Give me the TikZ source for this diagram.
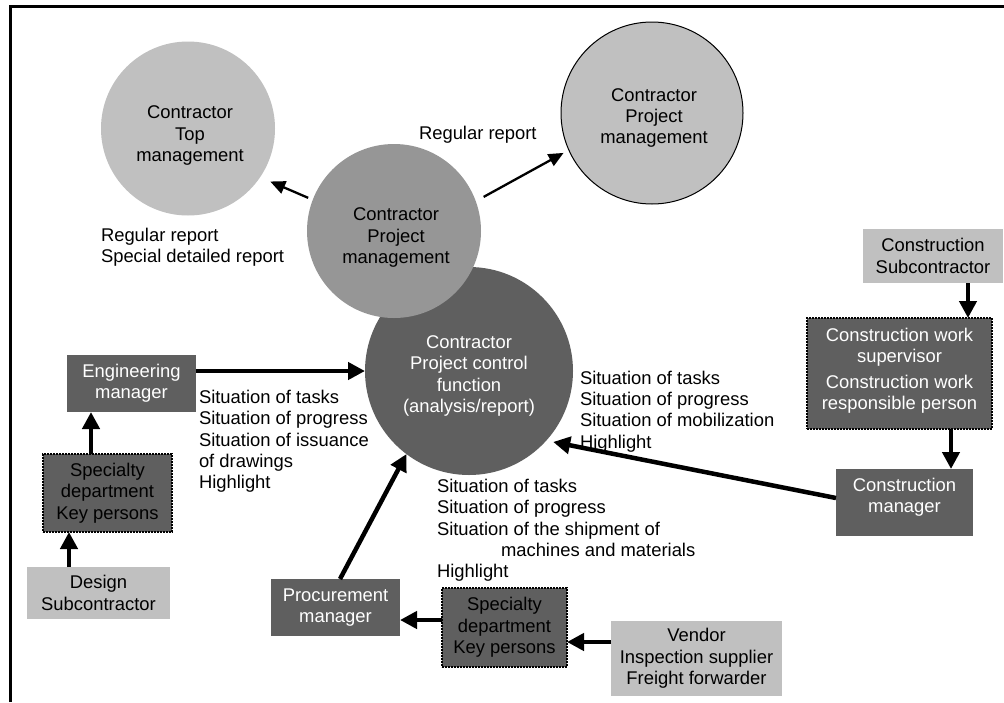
\documentclass[tikz,border=0pt]{standalone}
\usepackage{fontspec}
\setmainfont{Liberation Sans}
\usetikzlibrary{arrows.meta,calc}
\definecolor{dark}{RGB}{95,95,95}
\definecolor{mid}{RGB}{150,150,150}
\definecolor{light}{RGB}{192,192,192}
\begin{document}
\begin{tikzpicture}[x=1pt,y=-1pt,
  every node/.style={font=\fontsize{18.4}{21.3}\selectfont, inner sep=0pt, outer sep=0pt},
  circ/.style={circle, minimum size=#1, inner sep=0pt},
  txt/.style={align=center},
  box/.style={rectangle, align=center, inner sep=0pt},
  darkbox/.style={box, fill=dark, text=white},
  dotbox/.style={box, fill=dark, draw=black, densely dotted, line width=2pt, text=black},
  lightbox/.style={box, fill=light, text=black},
  lbl/.style={align=left, anchor=west},
  thinarr/.style={line width=2.3pt, -{Triangle[length=15pt,width=13pt]}},
  bigarr/.style={line width=4.5pt, -{Triangle[length=17pt,width=17pt]}},
]
\useasboundingbox (0,0) rectangle (1004,702);
\fill[white] (0,0) rectangle (1004,702);
\draw[line width=3pt] (10.5,702) -- (10.5,6.5) -- (1004,6.5);

% circles
\node[circ=174pt, fill=light] (top) at (188,128.5) {};
\node[txt] (topT) at (190,135.5) {Contractor\\Top\\management};
\node[circ=208pt, fill=dark] (pcf) at (469,371) {};
\node[circ=174pt, fill=mid] (pmc) at (394,231) {};
\node[txt] (pmcT) at (396,237.5) {Contractor\\Project\\management};
\node[circ=182pt, fill=light, draw=black, line width=1pt] (pmr) at (652,113) {};
\node[txt] (pmrT) at (654,118) {Contractor\\Project\\management};
\node[txt, text=white] (pcfT) at (469,376) {Contractor\\Project control\\function\\(analysis/report)};

% boxes
\node[darkbox, minimum width=129pt, minimum height=57pt] (em) at (131.5,383.5) {Engineering\\manager};
\node[dotbox, minimum width=129pt, minimum height=78pt] (specL) at (107.5,493) {Specialty\\department\\Key persons};
\node[lightbox, minimum width=143pt, minimum height=52pt] (design) at (98.5,593) {Design\\Subcontractor};
\node[darkbox, minimum width=129pt, minimum height=57pt] (proc) at (335.5,607.5) {Procurement\\manager};
\node[dotbox, minimum width=125pt, minimum height=79pt] (specB) at (504.5,627.5) {Specialty\\department\\Key persons};
\node[lightbox, minimum width=171pt, minimum height=75pt] (vendor) at (696.5,658.5) {Vendor\\Inspection supplier\\Freight forwarder};
\node[lightbox, minimum width=140pt, minimum height=54pt] (csub) at (933,256) {Construction\\Subcontractor};
\node[dotbox, minimum width=185pt, minimum height=111pt] (cw) at (899.5,373.5) {};
\node[txt, text=white] (cwT) at (899.5,371) {Construction work\\supervisor\\[4.5pt]Construction work\\responsible person};
\node[darkbox, minimum width=137pt, minimum height=67pt] (cm) at (904.5,502.5) {};
\node[txt, text=white] (cmT) at (904.5,497.5) {Construction\\manager};

% labels
\node[lbl] (rr1) at (419,135) {Regular report};
\node[lbl] (rr2) at (101,247) {Regular report\\Special detailed report};
\node[lbl] (emL) at (199,441.5) {Situation of tasks\\Situation of progress\\Situation of issuance\\of drawings\\Highlight};
\node[lbl] (cmL) at (580,411.5) {Situation of tasks\\Situation of progress\\Situation of mobilization\\Highlight};
\node[lbl] (prL) at (437,530.5) {Situation of tasks\\Situation of progress\\Situation of the shipment of\\\hspace*{64pt}machines and materials\\Highlight};

% arrows
\draw[thinarr, shorten <=5pt, shorten >=11pt] (pmc.159) -- (top.326);
\draw[thinarr, shorten <=9pt, shorten >=6pt] (pmc.20) -- (pmr.204);
\draw[bigarr] (em.east |- pcf.west) -- (pcf.west);
\draw[bigarr] ([xshift=-16.5pt]specL.north) coordinate (a1) -- (a1 |- em.south);
\draw[bigarr] ([xshift=-29.5pt]design.north) coordinate (a2) -- (a2 |- specL.south);
\draw[bigarr] ([xshift=4.5pt]proc.north) -- (pcf.233);
\draw[bigarr] ([yshift=7.5pt]specB.west) coordinate (a3) -- (a3 -| proc.east);
\draw[bigarr] ([yshift=16.5pt]vendor.west) coordinate (a4) -- (a4 -| specB.east);
\draw[bigarr] ([xshift=35pt]csub.south) coordinate (a5) -- (a5 |- cw.north);
\draw[bigarr] ([xshift=51.5pt]cw.south) coordinate (a6) -- (a6 |- cm.north);
\draw[bigarr, shorten >=7pt] ([yshift=4.5pt]cm.west) -- (pcf.318);
\end{tikzpicture}
\end{document}
